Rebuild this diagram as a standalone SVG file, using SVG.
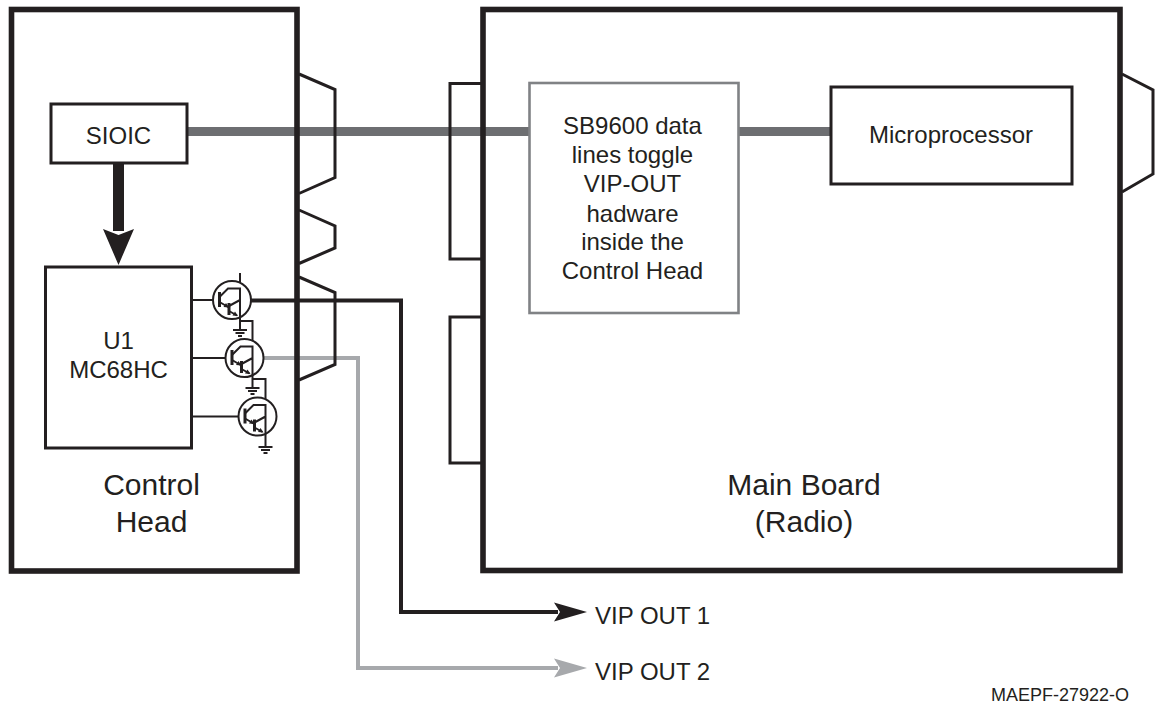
<svg xmlns="http://www.w3.org/2000/svg" width="1155" height="706" viewBox="0 0 1155 706">
<style>
text{font-family:"Liberation Sans",Arial,sans-serif;fill:#231f20}
.frame{fill:none;stroke:#231f20;stroke-width:5.6}
.plug{fill:none;stroke:#231f20;stroke-width:3}
.box{fill:#fff;stroke:#231f20;stroke-width:3}
.gbox{fill:#fff;stroke:#808285;stroke-width:2.6}
.w{stroke:#231f20;fill:none;stroke-width:2}
.bus{stroke:#6d6e71;stroke-width:9;fill:none}
.blk{stroke:#231f20;stroke-width:4;fill:none}
.gry{stroke:#a7a9ac;stroke-width:4;fill:none}
.t24{font-size:24px;text-anchor:middle}
.t30{font-size:30px;text-anchor:middle}
</style>
<defs>
<g id="darl">
<circle r="19" fill="#fff" stroke="#231f20" stroke-width="2"/>
<path d="M-12.5,-8V7M-3,3V15" stroke="#231f20" stroke-width="3" fill="none"/>
<path d="M-12.5,-3L-4,-11.5H8V17M-12.5,2L-3,7.5M-3,6L8,0M-3,11L5,15.5" class="w"/>
<polygon points="-3,7.5 -8.5,7 -6,3" fill="#231f20"/>
<polygon points="6,16 0.5,15.5 3,11.5" fill="#231f20"/>
</g>
<g id="gnd">
<path d="M-7,0H7M-4.5,3H4.5M-2,6H2" stroke="#231f20" stroke-width="1.8"/>
</g>
</defs>
<rect width="1155" height="706" fill="#fff"/>

<g id="connectors">
<path class="bus" d="M187,131.5H529M738,131.5H831"/>
<path d="M118.5,163V231" stroke="#231f20" stroke-width="11"/>
<polygon points="103,229 118.5,235 134,229 118.5,265" fill="#231f20"/>
<path class="blk" d="M251,300.5H401V612H558"/>
<polygon points="554,602.5 587,612 554,621.5 560,612" fill="#231f20"/>
<path class="gry" d="M263.5,358H358V668H558"/>
<polygon points="554,658.5 587,668 554,677.5 560,668" fill="#a7a9ac"/>
<text x="595" y="624" font-size="24">VIP OUT 1</text>
<text x="595" y="680" font-size="24">VIP OUT 2</text>
</g>

<g id="control-head">
<rect class="frame" x="11.5" y="9.5" width="285.5" height="561.5"/>
<path class="plug" d="M299,74L335,89.5V177.5L299,193.5"/>
<path class="plug" d="M299,210L335,226V248L299,263.5"/>
<path class="plug" d="M299,277L335,292.5V364.5L299,380"/>
<text class="t30" x="151.5" y="495">Control</text>
<text class="t30" x="151.5" y="532">Head</text>
</g>

<g id="main-board">
<rect class="frame" x="483" y="9.5" width="637" height="561"/>
<path class="plug" d="M481,83.5H450V259H481"/>
<path class="plug" d="M481,317H450V463H481"/>
<path class="plug" d="M1122,74L1153,90V174L1122,192"/>
<text class="t30" x="804" y="495">Main Board</text>
<text class="t30" x="804" y="532">(Radio)</text>
</g>

<g id="sioic">
<rect class="box" x="51" y="104" width="136" height="59"/>
<text class="t24" x="118.5" y="144">SIOIC</text>
</g>

<g id="u1">
<rect class="box" x="45.5" y="267" width="146" height="181"/>
<text class="t24" x="118.5" y="349">U1</text>
<text class="t24" x="118.5" y="378">MC68HC</text>
</g>

<g id="sb9600">
<rect class="gbox" x="529.5" y="83" width="209" height="230"/>
<text class="t24" x="632.5" y="134">SB9600 data</text>
<text class="t24" x="632.5" y="163">lines toggle</text>
<text class="t24" x="632.5" y="192">VIP-OUT</text>
<text class="t24" x="632.5" y="221.5">hadware</text>
<text class="t24" x="632.5" y="250">inside the</text>
<text class="t24" x="632.5" y="279">Control Head</text>
</g>

<g id="microprocessor">
<rect class="box" x="831" y="87" width="241" height="97"/>
<text class="t24" x="951" y="143">Microprocessor</text>
</g>

<g id="transistors">
<path class="w" d="M192,300H219.5M192,358H232M192,416.5H245"/>
<path class="w" d="M240,273V282M240,317V330M240,321H252.5V341M252.5,375V388M252.5,379H265.5V400M265.5,433V447"/>
<use href="#darl" x="232" y="300"/>
<use href="#darl" x="244.5" y="358"/>
<use href="#darl" x="257.5" y="416.5"/>
<use href="#gnd" x="240" y="330"/>
<use href="#gnd" x="252.5" y="388"/>
<use href="#gnd" x="265.5" y="447"/>
</g>

<text x="991" y="701" font-size="18">MAEPF-27922-O</text>
</svg>
